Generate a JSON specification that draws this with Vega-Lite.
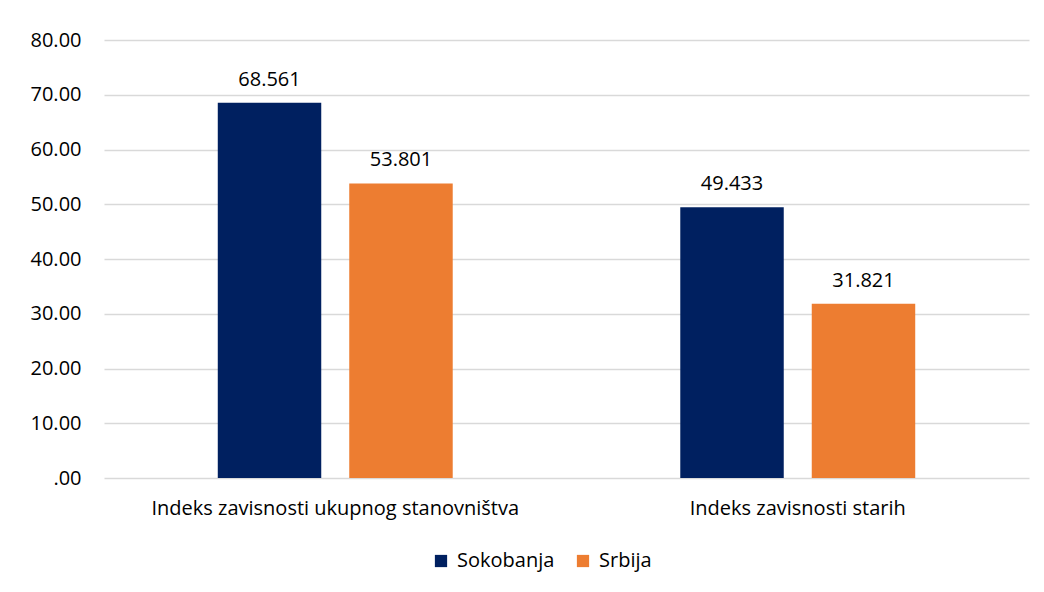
{
  "$schema": "https://vega.github.io/schema/vega-lite/v6.json",
  "width": 925,
  "height": 438,
  "autosize": {"type": "none"},
  "padding": {"left": 104, "top": 40, "right": 15, "bottom": 114},
  "background": "white",
  "config": {
    "view": {"stroke": null}
  },
  "data": {
    "values": [
      {"indeks": "Indeks zavisnosti ukupnog stanovništva", "teritorija": "Sokobanja", "vrednost": 68.561},
      {"indeks": "Indeks zavisnosti ukupnog stanovništva", "teritorija": "Srbija", "vrednost": 53.801},
      {"indeks": "Indeks zavisnosti starih", "teritorija": "Sokobanja", "vrednost": 49.433},
      {"indeks": "Indeks zavisnosti starih", "teritorija": "Srbija", "vrednost": 31.821}
    ]
  },
  "encoding": {
    "x": {
      "field": "indeks",
      "type": "nominal",
      "sort": null,
      "title": null,
      "scale": {"paddingInner": 0.492, "paddingOuter": 0.246},
      "axis": {"labelAngle": 0, "labelFontSize": 20, "labelColor": "#000000", "labelPadding": 20, "labelLimit": 600, "ticks": false, "domain": false, "grid": false, "labelFont": "Open Sans"}
    },
    "xOffset": {
      "field": "teritorija",
      "type": "nominal",
      "sort": ["Sokobanja", "Srbija"],
      "scale": {"paddingInner": 0.213, "paddingOuter": 0}
    },
    "y": {
      "field": "vrednost",
      "type": "quantitative",
      "title": null,
      "scale": {"domain": [0, 80], "nice": false},
      "axis": {"values": [0, 10, 20, 30, 40, 50, 60, 70, 80], "labelExpr": "datum.value == 0 ? '.00' : format(datum.value, '.2f')", "labelFontSize": 20, "labelColor": "#000000", "labelPadding": 23, "ticks": false, "domain": false, "gridColor": "#d9d9d9", "gridWidth": 1.5, "labelFont": "Open Sans"}
    }
  },
  "layer": [
    {
      "mark": {"type": "bar"},
      "encoding": {
        "color": {
          "field": "teritorija",
          "type": "nominal",
          "sort": ["Sokobanja", "Srbija"],
          "scale": {"domain": ["Sokobanja", "Srbija"], "range": ["#002060", "#ED7D31"]},
          "legend": {"orient": "none", "legendX": 327, "legendY": 511, "direction": "horizontal", "title": null, "symbolType": "square", "symbolSize": 150, "symbolStrokeWidth": 0, "labelFontSize": 20, "labelFont": "Open Sans", "labelColor": "#000000", "columnPadding": 18, "labelOffset": 6}
        }
      }
    },
    {
      "mark": {"type": "text", "baseline": "alphabetic", "dy": -17, "fontSize": 20, "font": "Open Sans", "color": "#000000"},
      "encoding": {
        "text": {"field": "vrednost", "type": "quantitative", "format": ".3f"}
      }
    }
  ]
}
